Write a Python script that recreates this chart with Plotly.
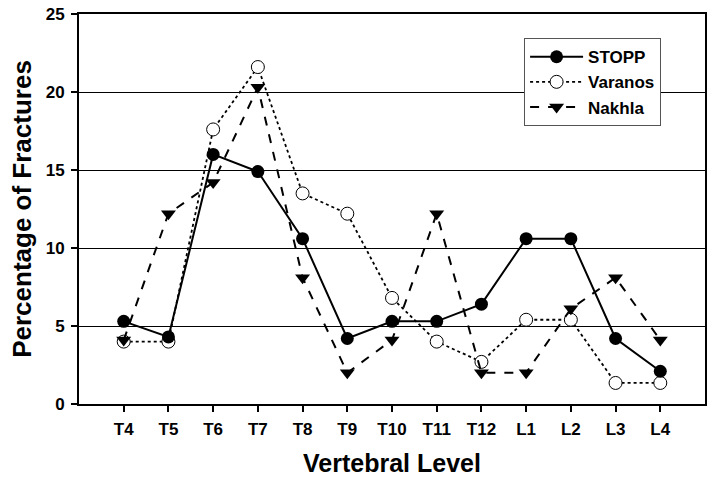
import plotly.graph_objects as go

levels = ["T4", "T5", "T6", "T7", "T8", "T9", "T10", "T11", "T12", "L1", "L2", "L3", "L4"]
stopp = [5.3, 4.3, 16.0, 14.9, 10.6, 4.2, 5.3, 5.3, 6.4, 10.6, 10.6, 4.2, 2.1]
varanos = [4.0, 4.0, 17.6, 21.6, 13.5, 12.2, 6.8, 4.0, 2.7, 5.4, 5.4, 1.35, 1.35]
nakhla = [4.1, 12.2, 14.2, 20.3, 8.1, 2.0, 4.1, 12.2, 2.0, 2.0, 6.1, 8.1, 4.1]
y_ticks = [0, 5, 10, 15, 20, 25]

FONT = "Liberation Sans, Arial, sans-serif"
x_idx = list(range(len(levels)))

fig = go.Figure()
fig.add_trace(go.Scatter(
    x=x_idx, y=varanos, name="Varanos", mode="lines+markers",
    line=dict(color="black", width=1.8, dash="dot"),
    marker=dict(symbol="circle", size=13, color="white", line=dict(color="black", width=1))))
fig.add_trace(go.Scatter(
    x=x_idx, y=nakhla, name="Nakhla", mode="lines+markers",
    line=dict(color="black", width=2, dash="dash"),
    marker=dict(symbol="triangle-down", size=13, color="black")))
fig.add_trace(go.Scatter(
    x=x_idx, y=stopp, name="STOPP", mode="lines+markers",
    line=dict(color="black", width=2),
    marker=dict(symbol="circle", size=13, color="black")))

fig.update_layout(
    width=714, height=483,
    margin=dict(l=79, r=9, t=14, b=79),
    paper_bgcolor="white", plot_bgcolor="white",
    font=dict(family=FONT, color="black"),
    showlegend=True,
    legend=dict(
        x=0.711, y=0.938, xanchor="left", yanchor="top",
        bgcolor="white", bordercolor="#555", borderwidth=1,
        font=dict(size=17, family=FONT, color="black", weight="bold"),
        traceorder="normal", itemwidth=53, tracegroupgap=0,
    ),
    xaxis=dict(
        range=[-1, 13], tickmode="array", tickvals=x_idx, ticktext=levels,
        showline=True, linecolor="black", linewidth=2, mirror=True,
        ticks="outside", ticklen=6, tickwidth=1.5, tickcolor="black",
        showgrid=False, zeroline=False, automargin=False,
        ticklabelstandoff=3,
        tickfont=dict(size=17, family=FONT, weight="bold"),
        title=dict(text="Vertebral Level", font=dict(size=25, family=FONT, weight="bold"), standoff=16),
    ),
    yaxis=dict(
        range=[0, 25], tickmode="array", tickvals=y_ticks,
        showline=True, linecolor="black", linewidth=2, mirror=True,
        ticks="outside", ticklen=6, tickwidth=1.5, tickcolor="black",
        showgrid=True, gridcolor="black", gridwidth=1.2, zeroline=False, automargin=False,
        ticklabelstandoff=3,
        tickfont=dict(size=17, family=FONT, weight="bold"),
        title=dict(text="Percentage of Fractures", font=dict(size=26, family=FONT, weight="bold"), standoff=7),
    ),
)

fig.data[2].legendrank = 1
fig.data[0].legendrank = 2
fig.data[1].legendrank = 3

fig.write_html("out.html", config={"displayModeBar": False},
               post_script="document.body.style.margin='0';")
